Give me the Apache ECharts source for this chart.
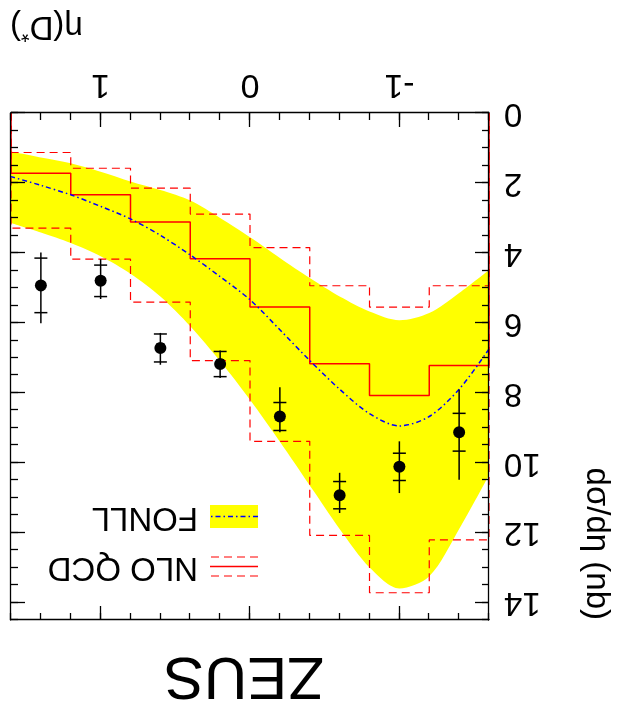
<!DOCTYPE html>
<html><head><meta charset="utf-8">
<script src="https://cdn.jsdelivr.net/npm/echarts@6/dist/echarts.min.js"></script>
<style>
html,body{margin:0;padding:0;background:#fff;overflow:hidden}
#c{width:622px;height:712px;transform:rotate(180deg);transform-origin:50% 50%;}
</style></head><body><div id="c"></div>
<script>
// ---- data (eta ascending) ----
const binEdges = [-1.6, -1.2, -0.8, -0.4, 0, 0.4, 0.8, 1.2, 1.6];
const nloCentral = [7.22, 8.08, 7.17, 5.55, 4.17, 3.12, 2.34, 1.72];
const nloLow     = [4.94, 5.55, 4.94, 3.85, 2.89, 2.15, 1.58, 1.13];
const nloHigh    = [12.21, 13.72, 12.08, 9.39, 7.08, 5.41, 4.18, 3.29];

const fonllEta     = [-1.6, -1.4, -1.2, -1.0, -0.8, -0.6, -0.4, -0.2, 0, 0.2, 0.4, 0.6, 0.8, 1.0, 1.2, 1.4, 1.6];
const fonllCentral = [6.75, 7.9, 8.68, 8.95, 8.6, 7.9, 7.08, 6.2, 5.34, 4.68, 4.06, 3.5, 3.03, 2.67, 2.34, 2.07, 1.82];
const fonllLow     = [4.49, 5.15, 5.72, 5.93, 5.68, 5.25, 4.72, 4.15, 3.55, 3.0, 2.5, 2.2, 1.96, 1.68, 1.44, 1.27, 1.1];
const fonllHigh    = [10.35, 11.9, 13.25, 13.6, 13.0, 11.9, 10.65, 9.4, 8.2, 7.1, 6.1, 5.25, 4.6, 4.1, 3.72, 3.42, 3.15];

const dataEta     = [-1.4, -1.0, -0.6, -0.2, 0.2, 0.6, 1.0, 1.4];
const dataVal     = [9.13, 10.12, 10.93, 8.68, 7.18, 6.72, 4.80, 4.93];
const dataStat    = [0.54, 0.39, 0.39, 0.40, 0.36, 0.40, 0.45, 0.78];
const dataTotDown = [1.22, 0.73, 0.64, 0.84, 0.39, 0.43, 0.62, 0.94];
const dataTotUp   = [1.36, 0.75, 0.51, 0.45, 0.40, 0.48, 0.52, 1.08];

const xTickValues = [-1, 0, 1];
const xTickLabels = ['-1', '0', '1'];
const yTickValues = [0, 2, 4, 6, 8, 10, 12, 14];
const yTickLabels = ['0', '2', '4', '6', '8', '10', '12', '14'];

// ---- build ----
function stepData(vals) {
  const d = [[binEdges[0], 0]];
  vals.forEach((v, i) => d.push([binEdges[i], v]));
  d.push([binEdges[binEdges.length - 1], vals[vals.length - 1]]);
  d.push([binEdges[binEdges.length - 1], 0]);
  return d;
}
const FONT = 'Liberation Sans, Arial, sans-serif';
const RED = '#ff0000';

function baseAxis(pos, min, max, major) {
  return {
    type: 'value', min: min, max: max, position: pos, z: 10,
    axisLine: { show: !major, onZero: false, lineStyle: { color: '#000', width: 1.3 } },
    splitLine: { show: false },
    axisTick: { show: true, inside: true, length: major ? 14 : 7, lineStyle: { color: '#000', width: 1.3 } },
    axisLabel: { show: false }
  };
}
function xAx(pos, major, labels) {
  const a = baseAxis(pos, -1.6, 1.6, major);
  if (major) {
    a.axisTick.customValues = xTickValues;
    if (labels) {
      a.axisLabel = { show: true, customValues: xTickValues, margin: 12,
        formatter: v => { const i = xTickValues.findIndex(t => Math.abs(t - v) < 1e-9); return i >= 0 ? xTickLabels[i] : ''; },
        fontFamily: FONT, fontSize: 34, color: '#000' };
    }
  } else {
    a.interval = 0.2;
  }
  return a;
}
function yAx(pos, major, labels) {
  const a = baseAxis(pos, 0, 14.5, major);
  if (major) {
    a.axisTick.customValues = yTickValues;
    if (labels) {
      a.axisLabel = { show: true, customValues: yTickValues, margin: 15,
        formatter: v => { const i = yTickValues.findIndex(t => Math.abs(t - v) < 1e-9); return i >= 0 ? yTickLabels[i] : ''; },
        fontFamily: FONT, fontSize: 33, color: '#000' };
    }
  } else {
    a.interval = 0.5;
  }
  return a;
}

const chart = echarts.init(document.getElementById('c'), null, { renderer: 'canvas' });
const option = {
  animation: false,
  backgroundColor: '#fff',
  grid: { left: 133, right: 11, top: 92, bottom: 113, containLabel: false },
  xAxis: [xAx('bottom', false), xAx('bottom', true, true), xAx('top', false), xAx('top', true)],
  yAxis: [yAx('left', false), yAx('left', true, true), yAx('right', false), yAx('right', true)],
  series: [
    // FONLL band: upper edge filled yellow down to 0, lower edge filled white down to 0
    { name: 'FONLL band high', type: 'line', smooth: 0.3, symbol: 'none', z: 1,
      data: fonllEta.map((e, i) => [e, fonllHigh[i]]),
      lineStyle: { opacity: 0 }, areaStyle: { color: '#ffff00', opacity: 1 } },
    { name: 'FONLL band low', type: 'line', smooth: 0.3, symbol: 'none', z: 2,
      data: fonllEta.map((e, i) => [e, fonllLow[i]]),
      lineStyle: { opacity: 0 }, areaStyle: { color: '#ffffff', opacity: 1 } },
    { name: 'NLO low', type: 'line', step: 'end', symbol: 'none', z: 3, data: stepData(nloLow),
      lineStyle: { color: RED, width: 1.2, type: [8, 5] } },
    { name: 'NLO high', type: 'line', step: 'end', symbol: 'none', z: 3, data: stepData(nloHigh),
      lineStyle: { color: RED, width: 1.2, type: [8, 5] } },
    { name: 'NLO QCD', type: 'line', step: 'end', symbol: 'none', z: 3, data: stepData(nloCentral),
      lineStyle: { color: RED, width: 1.5 } },
    { name: 'FONLL', type: 'line', smooth: 0.3, symbol: 'none', z: 4,
      data: fonllEta.map((e, i) => [e, fonllCentral[i]]),
      lineStyle: { color: '#0000ff', width: 1.5, type: [5, 3, 1.5, 3] } },
    { name: 'ZEUS', type: 'custom', z: 5,
      data: dataEta.map((e, i) => [e, dataVal[i], dataStat[i], dataTotDown[i], dataTotUp[i]]),
      encode: { x: 0, y: 1 },
      renderItem: (params, api) => {
        const x = api.value(0), y = api.value(1), st = api.value(2), dn = api.value(3), up = api.value(4);
        const c = api.coord([x, y]);
        const lo = api.coord([x, y - dn]), hi = api.coord([x, y + up]);
        const sl = api.coord([x, y - st]), sh = api.coord([x, y + st]);
        const hw = 6.5, ls = { stroke: '#000', lineWidth: 1.5 };
        return { type: 'group', children: [
          { type: 'line', shape: { x1: c[0], y1: lo[1], x2: c[0], y2: hi[1] }, style: ls },
          { type: 'line', shape: { x1: c[0] - hw, y1: sl[1], x2: c[0] + hw, y2: sl[1] }, style: ls },
          { type: 'line', shape: { x1: c[0] - hw, y1: sh[1], x2: c[0] + hw, y2: sh[1] }, style: ls },
          { type: 'circle', shape: { cx: c[0], cy: c[1], r: 6 }, style: { fill: '#000' } }
        ] };
      } }
  ],
  graphic: [
    { type: 'text', x: 378, y: 37, style: { text: 'ZEUS', font: '60px ' + FONT, fill: '#000', textAlign: 'center', textVerticalAlign: 'middle' } },
    { type: 'text', x: 9, y: 92, rotation: Math.PI / 2,
      style: { text: 'dσ/dη (nb)', font: '33px ' + FONT, fill: '#000', textAlign: 'right', textVerticalAlign: 'top' } },
    { type: 'text', x: 612, y: 686,
      style: { text: '{a|η(D}{s|*}{a|)}', fill: '#000', textAlign: 'right', textVerticalAlign: 'middle',
        rich: { a: { fontFamily: FONT, fontSize: 33, fill: '#000' }, s: { fontFamily: FONT, fontSize: 22, fill: '#000', verticalAlign: 'top', padding: [0, 0, 14, 0] } } } },
    // legend
    { type: 'line', shape: { x1: 364, y1: 136, x2: 412, y2: 136 }, style: { stroke: RED, lineWidth: 1.2, lineDash: [8, 5] } },
    { type: 'line', shape: { x1: 364, y1: 145.5, x2: 412, y2: 145.5 }, style: { stroke: RED, lineWidth: 1.5 } },
    { type: 'line', shape: { x1: 364, y1: 155, x2: 412, y2: 155 }, style: { stroke: RED, lineWidth: 1.2, lineDash: [8, 5] } },
    { type: 'text', x: 424, y: 145, style: { text: 'NLO QCD', font: '33px ' + FONT, fill: '#000', textAlign: 'left', textVerticalAlign: 'middle' } },
    { type: 'rect', shape: { x: 364, y: 184, width: 48, height: 23 }, style: { fill: '#ffff00' } },
    { type: 'line', shape: { x1: 364, y1: 195.5, x2: 412, y2: 195.5 }, style: { stroke: '#0000ff', lineWidth: 1.5, lineDash: [5, 3, 1.5, 3] } },
    { type: 'text', x: 424, y: 195, style: { text: 'FONLL', font: '33px ' + FONT, fill: '#000', textAlign: 'left', textVerticalAlign: 'middle' } }
  ]
};
chart.setOption(option);
</script></body></html>
